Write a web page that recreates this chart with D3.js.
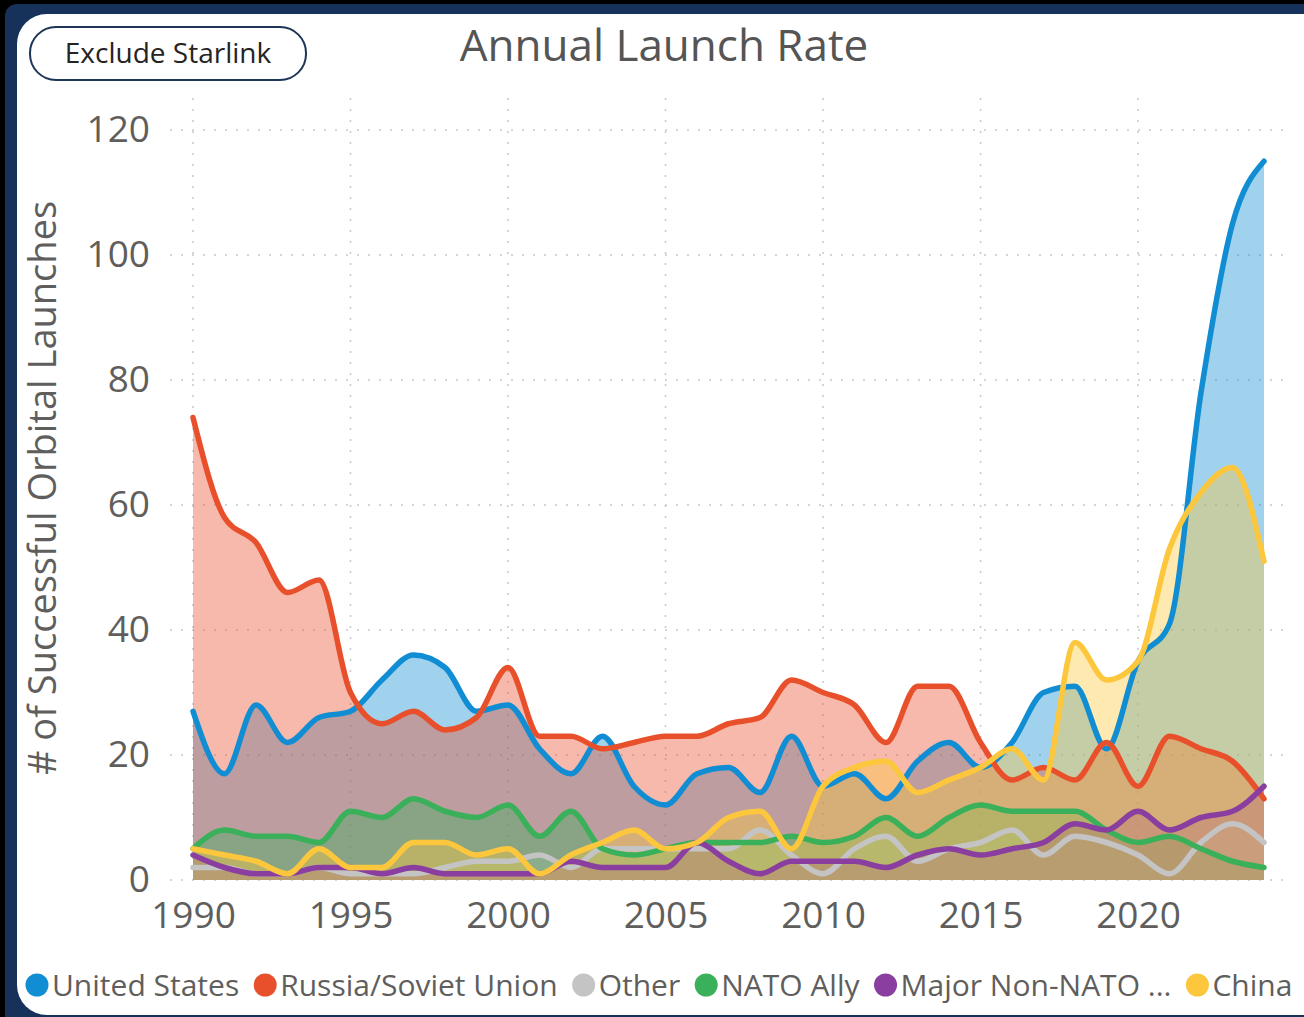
<!DOCTYPE html>
<html>
<head>
<meta charset="utf-8">
<script src="https://cdn.jsdelivr.net/npm/d3@7"></script>
<style>
  html, body { margin: 0; padding: 0; background: #000; overflow: hidden; }
  text { font-family: "Open Sans", "Noto Sans", sans-serif; }
</style>
</head>
<body>
<div id="chart"></div>
<script>
var years = d3.range(1990, 2025);
var seriesNames = ["United States", "Russia/Soviet Union", "Other", "NATO Ally", "Major Non-NATO Ally", "China"];
var legendLabels = ["United States", "Russia/Soviet Union", "Other", "NATO Ally", "Major Non-NATO ...", "China"];
var colors = ["#118dd3", "#e8502c", "#c4c4c4", "#3bb05a", "#8a3fa0", "#fcc73c"];

var usLaunches = [27, 17, 28, 22, 26, 27, 32, 36, 34, 27, 28, 21, 17, 23, 15, 12, 17, 18, 14, 23,
                  15, 17, 13, 19, 22, 18, 22, 30, 31, 21, 35, 41, 78, 105, 115];
var russiaLaunches = [74, 58, 54, 46, 48, 30, 25, 27, 24, 26, 34, 23, 23, 21, 22, 23, 23, 25, 26, 32,
                      30, 28, 22, 31, 31, 22, 16, 18, 16, 22, 15, 23, 21, 19, 13];
var otherLaunches = [2, 2, 1, 1, 2, 1, 1, 1, 2, 3, 3, 4, 2, 5, 5, 5, 5, 5, 8, 4,
                     1, 5, 7, 3, 5, 6, 8, 4, 7, 6, 4, 1, 6, 9, 6];
var natoLaunches = [5, 8, 7, 7, 6, 11, 10, 13, 11, 10, 12, 7, 11, 5, 4, 5, 6, 6, 6, 7,
                    6, 7, 10, 7, 10, 12, 11, 11, 11, 8, 6, 7, 5, 3, 2];
var majorNonNatoLaunches = [4, 2, 1, 1, 2, 2, 1, 2, 1, 1, 1, 1, 3, 2, 2, 2, 6, 3, 1, 3,
                            3, 3, 2, 4, 5, 4, 5, 6, 9, 8, 11, 8, 10, 11, 15];
var chinaLaunches = [5, 4, 3, 1, 5, 2, 2, 6, 6, 4, 5, 1, 4, 6, 8, 5, 6, 10, 11, 5,
                     15, 18, 19, 14, 16, 18, 21, 16, 38, 32, 35, 53, 62, 66, 51];
var yTicks = [0, 20, 40, 60, 80, 100, 120];
var xTicks = [1990, 1995, 2000, 2005, 2010, 2015, 2020];

var allValues = [usLaunches, russiaLaunches, otherLaunches, natoLaunches, majorNonNatoLaunches, chinaLaunches];
var series = seriesNames.map(function(name, i) {
  return { name: name, color: colors[i], values: years.map(function(yr, j) { return { year: yr, v: allValues[i][j] }; }) };
});

var W = 1304, H = 1017;
var svg = d3.select("#chart").append("svg")
   .attr("width", W)
   .attr("height", H);

// frame
svg.append("rect").attr("x", 0).attr("y", 0).attr("width", W).attr("height", H).attr("fill", "#000");
svg.append("rect").attr("x", 5).attr("y", 4).attr("width", W + 40).attr("height", H + 40)
   .attr("rx", 12).attr("fill", "#17325a");
svg.append("rect").attr("x", 17).attr("y", 14).attr("width", W + 20).attr("height", H - 16)
   .attr("rx", 30).attr("fill", "#fff");

var xScale = d3.scaleLinear().domain([1990, 2024]).range([193, 1264]);
var yScale = d3.scaleLinear().domain([0, 120]).range([880, 130]);

// gridlines
svg.append("g").selectAll("line")
   .data(yTicks)
   .enter().append("line")
   .attr("x1", 170).attr("x2", 1290)
   .attr("y1", function(d) { return yScale(d); })
   .attr("y2", function(d) { return yScale(d); })
   .attr("stroke", "#c8c8c8").attr("stroke-width", 1.5).attr("stroke-dasharray", "2,9");
svg.append("g").selectAll("line")
   .data(xTicks)
   .enter().append("line")
   .attr("x1", function(d) { return xScale(d); })
   .attr("x2", function(d) { return xScale(d); })
   .attr("y1", 98).attr("y2", 880)
   .attr("stroke", "#c8c8c8").attr("stroke-width", 1.5).attr("stroke-dasharray", "2,9");

var area = d3.area()
   .curve(d3.curveMonotoneX)
   .x(function(d) { return xScale(d.year); })
   .y0(yScale(0))
   .y1(function(d) { return yScale(d.v); });
var line = d3.line()
   .curve(d3.curveMonotoneX)
   .x(function(d) { return xScale(d.year); })
   .y(function(d) { return yScale(d.v); });

svg.append("g").selectAll("path")
   .data(series)
   .enter().append("path")
   .attr("d", function(d) { return area(d.values); })
   .attr("fill", function(d) { return d.color; })
   .attr("fill-opacity", 0.4);

svg.append("g").selectAll("path")
   .data(series)
   .enter().append("path")
   .attr("d", function(d) { return line(d.values); })
   .attr("fill", "none")
   .attr("stroke", function(d) { return d.color; })
   .attr("stroke-width", 5.5)
   .attr("stroke-linejoin", "round")
   .attr("stroke-linecap", "round");

// axes (labels only, no domain lines)
var yAxis = d3.axisLeft(yScale).tickValues(yTicks).tickSize(0).tickPadding(0);
var gy = svg.append("g").attr("transform", "translate(150,0)").call(yAxis);
var xAxis = d3.axisBottom(xScale).tickValues(xTicks).tickSize(0).tickPadding(0).tickFormat(d3.format("d"));
var gx = svg.append("g").attr("transform", "translate(0,902)").call(xAxis);
[gy, gx].forEach(function(g) {
  g.select(".domain").remove();
  g.selectAll("text").attr("fill", "#605e5c").style("font-size", "37px")
   .style("font-family", "'Open Sans', sans-serif");
});
gx.selectAll("text").attr("dy", "0.71em");

svg.append("text")
   .attr("text-anchor", "middle")
   .attr("transform", "translate(56,488)rotate(-90)")
   .attr("fill", "#605e5c")
   .style("font-size", "38px")
   .text("# of Successful Orbital Launches");

svg.append("text")
   .attr("x", 664).attr("y", 61)
   .attr("text-anchor", "middle")
   .attr("fill", "#555")
   .style("font-size", "44px")
   .text("Annual Launch Rate");

// button
svg.append("rect")
   .attr("x", 30).attr("y", 27).attr("width", 276).attr("height", 53).attr("rx", 26)
   .attr("fill", "#fff").attr("stroke", "#1d3557").attr("stroke-width", 2);
svg.append("text")
   .attr("x", 168).attr("y", 63)
   .attr("text-anchor", "middle")
   .attr("fill", "#252423")
   .style("font-size", "28px")
   .text("Exclude Starlink");

// legend
var legend = svg.append("g");
var lx = 37;
legendLabels.forEach(function(lbl, i) {
  legend.append("circle").attr("cx", lx).attr("cy", 985).attr("r", 11.5).attr("fill", colors[i]);
  var t = legend.append("text")
     .attr("x", lx + 15).attr("y", 996)
     .attr("fill", "#605e5c")
     .style("font-size", "30px")
     .text(lbl);
  lx = lx + 15 + t.node().getComputedTextLength() + 26;
});
</script>
</body>
</html>
